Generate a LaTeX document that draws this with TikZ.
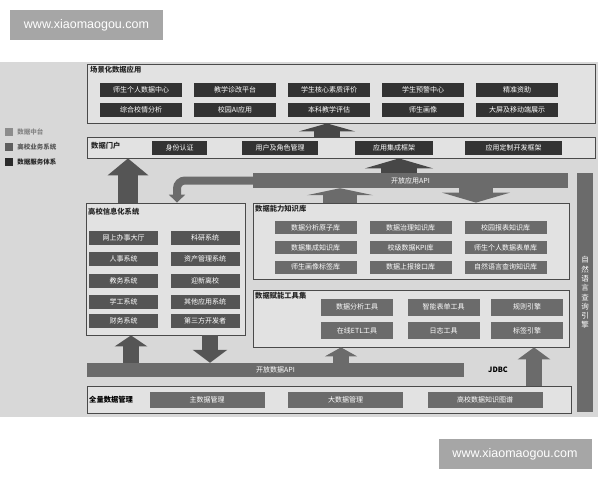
\documentclass[tikz,border=0pt]{standalone}
\usepackage{fontspec}
\setmainfont{Noto Sans CJK SC}
\newfontfamily\wmfont{Liberation Sans}
\usetikzlibrary{arrows.meta, positioning}
\definecolor{bggray}{HTML}{D8D8D8}
\definecolor{panelfill}{HTML}{E2E2E2}
\definecolor{panelline}{HTML}{4A4A4A}
\definecolor{svcgray}{HTML}{333333}
\definecolor{bizgray}{HTML}{555555}
\definecolor{midgray}{HTML}{6B6B6B}
\definecolor{wmgray}{HTML}{A6A6A6}
\tikzset{node distance=2pt}

\begin{document}
\begin{tikzpicture}[x=1pt,y=-1pt]
\tikzset{
  panel/.style={draw=panelline, line width=0.8pt, fill=panelfill, inner sep=0pt},
  ptitle/.style={font=\fontsize{7.3}{8}\selectfont\bfseries, text=black!85, inner sep=0pt},
  cell/.style={text=white, inner sep=0pt, font=\fontsize{7}{8}\selectfont},
  svcbox/.style={cell, fill=svcgray, minimum width=82pt, minimum height=14pt},
  bizbox/.style={cell, fill=bizgray, minimum width=69pt, minimum height=14pt},
  kbbox/.style={cell, fill=midgray, minimum width=82pt, minimum height=13pt},
  toolbox/.style={cell, fill=midgray, minimum width=72pt, minimum height=17pt},
  mgrbox/.style={cell, fill=midgray, minimum width=115pt, minimum height=16pt},
  bar/.style={cell, fill=midgray},
  legsq/.style={minimum size=8pt, inner sep=0pt},
  legtxt/.style={font=\fontsize{6.5}{7}\selectfont\bfseries, inner sep=0pt},
  blockarrow/.style n args={4}{draw=#1, line width=#2, -{Triangle[width=#3,length=#4]}},
  watermark/.style={fill=wmgray, text=white, font=\wmfont\fontsize{12.5}{14}\selectfont,
    minimum width=153pt, minimum height=30pt, inner sep=0pt}
}
\useasboundingbox (0,0) rectangle (600,480);
\fill[bggray] (0,62) rectangle (598,417);

% watermarks
\node[watermark] (wmtop) at (86.5,25) {www.xiaomaogou.com};
\node[watermark] (wmbot) at (515,454) {www.xiaomaogou.com};

% legend
\node[legsq, fill=black!45] (leg1) at (9,132) {};
\node[legsq, fill=black!63] (leg2) at (9,147) {};
\node[legsq, fill=black!83] (leg3) at (9,162) {};
\node[legtxt, text=black!48, right=4pt of leg1] (legtxt1) {数据中台};
\node[legtxt, text=black!65, right=4pt of leg2] (legtxt2) {高校业务系统};
\node[legtxt, text=black!85, right=4pt of leg3] (legtxt3) {数据服务体系};

% scene applications
\node[panel, minimum width=508pt, minimum height=59pt] (scene) at (341,93.5) {};
\node[ptitle, anchor=north west] (scenetitle) at (90,66) {场景化数据应用};
\node[svcbox] (s11) at (141,90) {师生个人数据中心};
\node[svcbox] (s12) at (235,90) {教学诊改平台};
\node[svcbox] (s13) at (329,90) {学生核心素质评价};
\node[svcbox] (s14) at (423,90) {学生预警中心};
\node[svcbox] (s15) at (517,90) {精准资助};
\node[svcbox] (s21) at (141,109.5) {综合校情分析};
\node[svcbox] (s22) at (235,109.5) {校园AI应用};
\node[svcbox] (s23) at (329,109.5) {本科教学评估};
\node[svcbox] (s24) at (423,109.5) {师生画像};
\node[svcbox] (s25) at (517,109.5) {大屏及移动端展示};

% data portal
\node[panel, minimum width=508pt, minimum height=21pt] (portal) at (341,147.5) {};
\node[ptitle, anchor=west] (portaltitle) at (91,146) {数据门户};
\node[svcbox, minimum width=55pt] (auth) at (179.5,147.5) {身份认证};
\node[svcbox, minimum width=76pt] (users) at (280,147.5) {用户及角色管理};
\node[svcbox, minimum width=78pt] (integ) at (394,147.5) {应用集成框架};
\node[svcbox, minimum width=97pt] (devfw) at (513.5,147.5) {应用定制开发框架};

% open app api and nl engine
\node[bar, minimum width=315pt, minimum height=15pt] (appapi) at (410.5,180.5) {开放应用API};
\node[bar, minimum width=16pt, minimum height=239pt, align=center,
  font=\fontsize{7.5}{9.3}\selectfont] (nlq) at (585,292.5)
  {自\\然\\语\\言\\查\\询\\引\\擎};

% campus information systems
\node[panel, minimum width=159pt, minimum height=132pt] (infosys) at (165.5,269) {};
\node[ptitle, anchor=north west] (infotitle) at (88,208) {高校信息化系统};
\node[bizbox] (b11) at (123.5,238) {网上办事大厅};
\node[bizbox] (b12) at (205,238) {科研系统};
\node[bizbox] (b21) at (123.5,259) {人事系统};
\node[bizbox] (b22) at (205,259) {资产管理系统};
\node[bizbox] (b31) at (123.5,280.5) {教务系统};
\node[bizbox] (b32) at (205,280.5) {迎新离校};
\node[bizbox] (b41) at (123.5,302) {学工系统};
\node[bizbox] (b42) at (205,302) {其他应用系统};
\node[bizbox] (b51) at (123.5,320.5) {财务系统};
\node[bizbox] (b52) at (205,320.5) {第三方开发者};

% knowledge base
\node[panel, minimum width=316pt, minimum height=76pt] (know) at (411,241) {};
\node[ptitle, anchor=north west] (knowtitle) at (255,205) {数据能力知识库};
\node[kbbox] (k11) at (315.5,227.5) {数据分析原子库};
\node[kbbox] (k12) at (410.5,227.5) {数据治理知识库};
\node[kbbox] (k13) at (505.5,227.5) {校园报表知识库};
\node[kbbox] (k21) at (315.5,247.5) {数据集成知识库};
\node[kbbox] (k22) at (410.5,247.5) {校级数据KPI库};
\node[kbbox] (k23) at (505.5,247.5) {师生个人数据表单库};
\node[kbbox] (k31) at (315.5,267) {师生画像标签库};
\node[kbbox] (k32) at (410.5,267) {数据上报接口库};
\node[kbbox] (k33) at (505.5,267) {自然语言查询知识库};

% tool set
\node[panel, minimum width=316pt, minimum height=57pt] (tools) at (411,318.5) {};
\node[ptitle, anchor=north west] (toolstitle) at (255,292) {数据赋能工具集};
\node[toolbox] (t11) at (357,307) {数据分析工具};
\node[toolbox] (t12) at (443.5,307) {智能表单工具};
\node[toolbox] (t13) at (527,307) {规则引擎};
\node[toolbox] (t21) at (357,330.5) {在线ETL工具};
\node[toolbox] (t22) at (443.5,330.5) {日志工具};
\node[toolbox] (t23) at (527,330.5) {标签引擎};

% open data api and full data management
\node[bar, minimum width=377pt, minimum height=14pt] (dataapi) at (275.5,370) {开放数据API};
\node[ptitle, text=black] (jdbc) at (498,370) {JDBC};
\node[panel, minimum width=484pt, minimum height=27pt] (full) at (329,399.5) {};
\node[ptitle, text=black, anchor=west] (fulltitle) at (89,399.5) {全量数据管理};
\node[mgrbox] (m1) at (207,399.5) {主数据管理};
\node[mgrbox] (m2) at (345.5,399.5) {大数据管理};
\node[mgrbox] (m3) at (485,399.5) {高校数据知识图谱};

% block arrows
\draw[blockarrow={black!72}{26pt}{56pt}{8pt}] (portal.north -| 327,0) -- (scene.south -| 327,0);
\draw[blockarrow={black!72}{36pt}{68pt}{10pt}] (appapi.north -| 399,0) -- (portal.south -| 399,0);
\draw[blockarrow={bizgray}{20pt}{40pt}{17pt}] (infosys.north -| 128,0) -- (portal.south -| 128,0);
\draw[blockarrow={midgray}{8pt}{16pt}{8pt}, rounded corners=8pt] (appapi.west) -| (infosys.north -| 177,0);
\draw[blockarrow={midgray}{34pt}{66pt}{7pt}] (know.north -| 340,0) -- (appapi.south -| 340,0);
\draw[blockarrow={midgray}{34pt}{68pt}{10pt}] (appapi.south -| 476,0) -- (know.north -| 476,0);
\draw[blockarrow={bizgray}{16pt}{32pt}{11pt}] (dataapi.north -| 131,0) -- (infosys.south -| 131,0);
\draw[blockarrow={bizgray}{16pt}{34pt}{13pt}] (infosys.south -| 210,0) -- (dataapi.north -| 210,0);
\draw[blockarrow={midgray}{16pt}{32pt}{9pt}] (dataapi.north -| 341,0) -- (tools.south -| 341,0);
\draw[blockarrow={midgray}{16pt}{32pt}{12pt}] (full.north -| 534,0) -- (tools.south -| 534,0);
\end{tikzpicture}
\end{document}
